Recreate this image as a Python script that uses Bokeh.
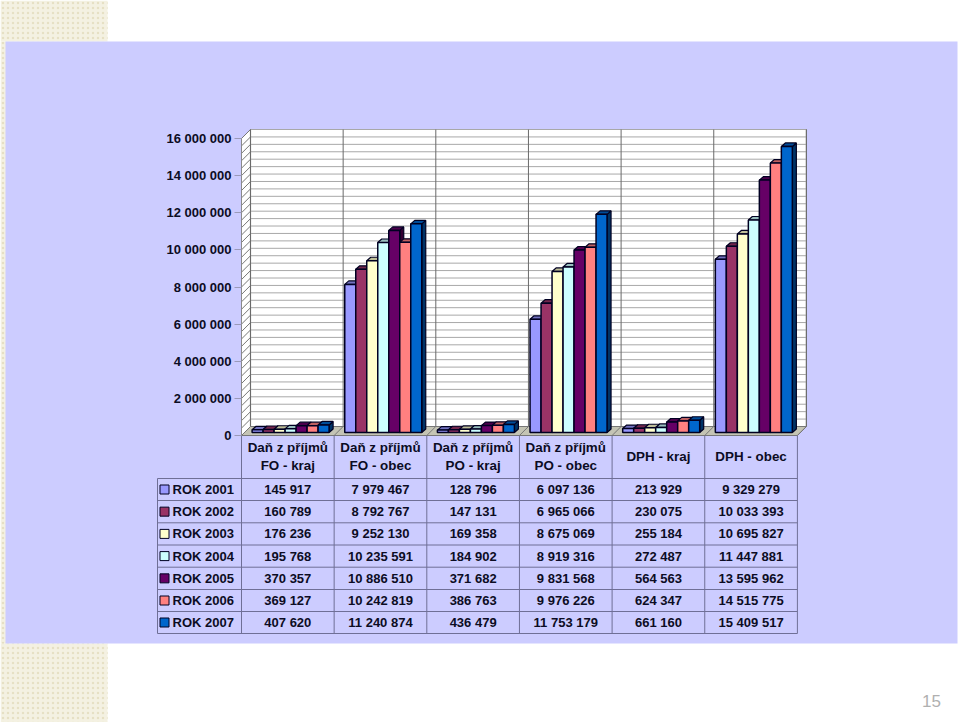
from bokeh.plotting import figure
from bokeh.embed import file_html
from bokeh.resources import INLINE
from bokeh.core.properties import value
from bokeh.models import FixedTicker

categories = ["Daň z příjmů\nFO - kraj", "Daň z příjmů\nFO - obec", "Daň z příjmů\nPO - kraj",
              "Daň z příjmů\nPO - obec", "DPH - kraj", "DPH - obec"]
series_names = ["ROK 2001", "ROK 2002", "ROK 2003", "ROK 2004", "ROK 2005", "ROK 2006", "ROK 2007"]
rok_2001 = [145917, 7979467, 128796, 6097136, 213929, 9329279]
rok_2002 = [160789, 8792767, 147131, 6965066, 230075, 10033393]
rok_2003 = [176236, 9252130, 169358, 8675069, 255184, 10695827]
rok_2004 = [195768, 10235591, 184902, 8919316, 272487, 11447881]
rok_2005 = [370357, 10886510, 371682, 9831568, 564563, 13595962]
rok_2006 = [369127, 10242819, 386763, 9976226, 624347, 14515775]
rok_2007 = [407620, 11240874, 436479, 11753179, 661160, 15409517]
series_values = [rok_2001, rok_2002, rok_2003, rok_2004, rok_2005, rok_2006, rok_2007]
series_colors = ["#9999ff", "#993366", "#ffffcc", "#ccffff", "#660066", "#ff8080", "#0066cc"]
y_ticks = [0, 2000000, 4000000, 6000000, 8000000, 10000000, 12000000, 14000000, 16000000]
y_labels = ["0", "2 000 000", "4 000 000", "6 000 000", "8 000 000", "10 000 000",
            "12 000 000", "14 000 000", "16 000 000"]

WIDTH, HEIGHT = 960, 722
FONT = value("Liberation Sans")
TEXT = "#0c0c24"
LINE = "#6f6f96"

# pixel geometry of the picture (page coordinates)
PX0, PY0 = 241.0, 435.0
GROUP_PX = 92.65
UNIT_PX = 297.0 / 16e6
n = len(categories)

def X(px):
    return (px - PX0) / GROUP_PX

def Y(py):
    return (PY0 - py) / UNIT_PX

def DX(px):
    return px / GROUP_PX

def DY(px):
    return px / UNIT_PX

p = figure(width=WIDTH, height=HEIGHT, output_backend="svg", toolbar_location=None,
           x_range=(X(0), X(WIDTH)), y_range=(Y(HEIGHT), Y(0)),
           x_axis_location=None, y_axis_location="left", min_border=0,
           background_fill_color="white", border_fill_color="white", outline_line_color=None)
p.grid.visible = False

# slide background
for px0, py0, px1, py1 in [(0, 0, 107, 41), (0, 643, 107, 722), (0, 41, 6, 643)]:
    p.quad(left=[X(px0)], right=[X(px1)], bottom=[Y(py1)], top=[Y(py0)], fill_color="#f4f1e2",
           line_color=None, hatch_pattern="dot", hatch_color="#e6e0c4", hatch_scale=5, hatch_weight=2)
p.quad(left=[X(5)], right=[X(957)], bottom=[Y(643)], top=[Y(41)], fill_color="#ccccff", line_color=None)

# walls and floor
WALL = 9.0
x_end = float(n)
dxw, dyw = DX(WALL), DY(WALL)
p.patch([0, dxw, dxw, 0], [0, dyw, 16e6 + dyw, 16e6], fill_color="white", line_color="#8a8a8a", line_width=1)
p.quad(left=[dxw], right=[x_end + dxw], bottom=[dyw], top=[16e6 + dyw], fill_color="white",
       line_color="#8a8a8a", line_width=1.2)
levels = [v * 400000 for v in range(41)]
p.segment(x0=[dxw] * len(levels), x1=[x_end + dxw] * len(levels),
          y0=[v + dyw for v in levels], y1=[v + dyw for v in levels], line_color="#a8a8a8", line_width=1)
p.segment(x0=[0] * len(levels), x1=[dxw] * len(levels),
          y0=levels, y1=[v + dyw for v in levels], line_color="#777777", line_width=1)
p.segment(x0=[k + dxw for k in range(n + 1)], x1=[k + dxw for k in range(n + 1)],
          y0=[dyw] * (n + 1), y1=[16e6 + dyw] * (n + 1), line_color="#6a6a6a", line_width=1)
p.patch([0, x_end, x_end + dxw, dxw], [0, 0, dyw, dyw], fill_color="#c4c4b4", line_color="#777777", line_width=1)
p.segment(x0=list(range(n + 1)), x1=[k + dxw for k in range(n + 1)],
          y0=[0] * (n + 1), y1=[dyw] * (n + 1), line_color="#777777", line_width=1)

# bars
BAR = DX(11.0)
START = DX(10.6)
dxb, dyb = DX(3.0), DY(3.0)
dxd, dyd = DX(4.0), DY(3.5)

def shade(c, f):
    r, g, b = int(c[1:3], 16), int(c[3:5], 16), int(c[5:7], 16)
    return "#%02x%02x%02x" % (int(r * f), int(g * f), int(b * f))

for s, (vals, col) in enumerate(zip(series_values, series_colors)):
    lefts = [k + START + s * BAR for k in range(n)]
    rights = [l + BAR for l in lefts]
    tops = [v + dyb for v in vals]
    p.patches(xs=[[r, r + dxd, r + dxd, r] for r in rights],
              ys=[[dyb, dyb + dyd, t + dyd, t] for t in tops],
              fill_color=shade(col, 0.5), line_color="#000022", line_width=1.2)
    p.patches(xs=[[l, r, r + dxd, l + dxd] for l, r in zip(lefts, rights)],
              ys=[[t, t, t + dyd, t + dyd] for t in tops],
              fill_color=shade(col, 0.75), line_color="#000022", line_width=1.2)
    p.quad(left=lefts, right=rights, bottom=[dyb] * n, top=tops, fill_color=col,
           line_color="#000022", line_width=1.5)

# y axis
axis = p.yaxis[0]
axis.fixed_location = 0
axis.bounds = (0, 16e6)
axis.ticker = FixedTicker(ticks=y_ticks)
axis.major_label_overrides = dict(zip(y_ticks, y_labels))
axis.axis_line_color = "#8a8a8a"
axis.major_tick_line_color = "#9a9ab8"
axis.major_tick_out = 7
axis.major_tick_in = 0
axis.minor_tick_line_color = None
axis.major_label_standoff = 3
axis.major_label_text_font = "Liberation Sans"
axis.major_label_text_font_size = "13px"
axis.major_label_text_font_style = "bold"
axis.major_label_text_color = TEXT

# data table
row_edges = [478, 500, 522.3, 544.5, 566.7, 589, 611, 633]
col_edges = [k for k in range(n + 1)]
y_head_bottom = Y(row_edges[0])
y_bottom = Y(row_edges[-1])
p.segment(x0=col_edges, x1=col_edges, y0=[y_bottom] * (n + 1), y1=[0] * (n + 1), line_color=LINE, line_width=1)
p.segment(x0=[X(157)], x1=[X(157)], y0=[y_bottom], y1=[y_head_bottom], line_color=LINE, line_width=1)
p.segment(x0=[X(157)] * len(row_edges), x1=[float(n)] * len(row_edges),
          y0=[Y(r) for r in row_edges], y1=[Y(r) for r in row_edges], line_color=LINE, line_width=1)

def fmt(v):
    return f"{v:,}".replace(",", " ")

p.text(x=[k + 0.5 for k in range(n)], y=[Y(456)] * n, text=categories, text_align="center",
       text_baseline="middle", text_font=FONT, text_font_style="bold", text_font_size="13.4px",
       text_color=TEXT, text_line_height=1.2)
for r, (name, vals, col) in enumerate(zip(series_names, series_values, series_colors)):
    yc = Y((row_edges[r] + row_edges[r + 1]) / 2)
    p.text(x=[k + 0.5 for k in range(n)], y=[yc] * n, text=[fmt(v) for v in vals], text_align="center",
           text_baseline="middle", text_font=FONT, text_font_style="bold", text_font_size="13px",
           text_color=TEXT)
    p.scatter(x=[X(164)], y=[yc], marker="square", size=9, fill_color=col, line_color="#000022", line_width=1)
    p.text(x=[X(172)], y=[yc], text=[name], text_align="left", text_baseline="middle", text_font=FONT,
           text_font_style="bold", text_font_size="13px", text_color=TEXT)

# slide number
p.text(x=[X(931)], y=[Y(700)], text=["15"], text_align="center", text_baseline="middle",
       text_font=FONT, text_font_size="17px", text_color="#b0b0b0")

open("out.html", "w").write(file_html(p, INLINE))
